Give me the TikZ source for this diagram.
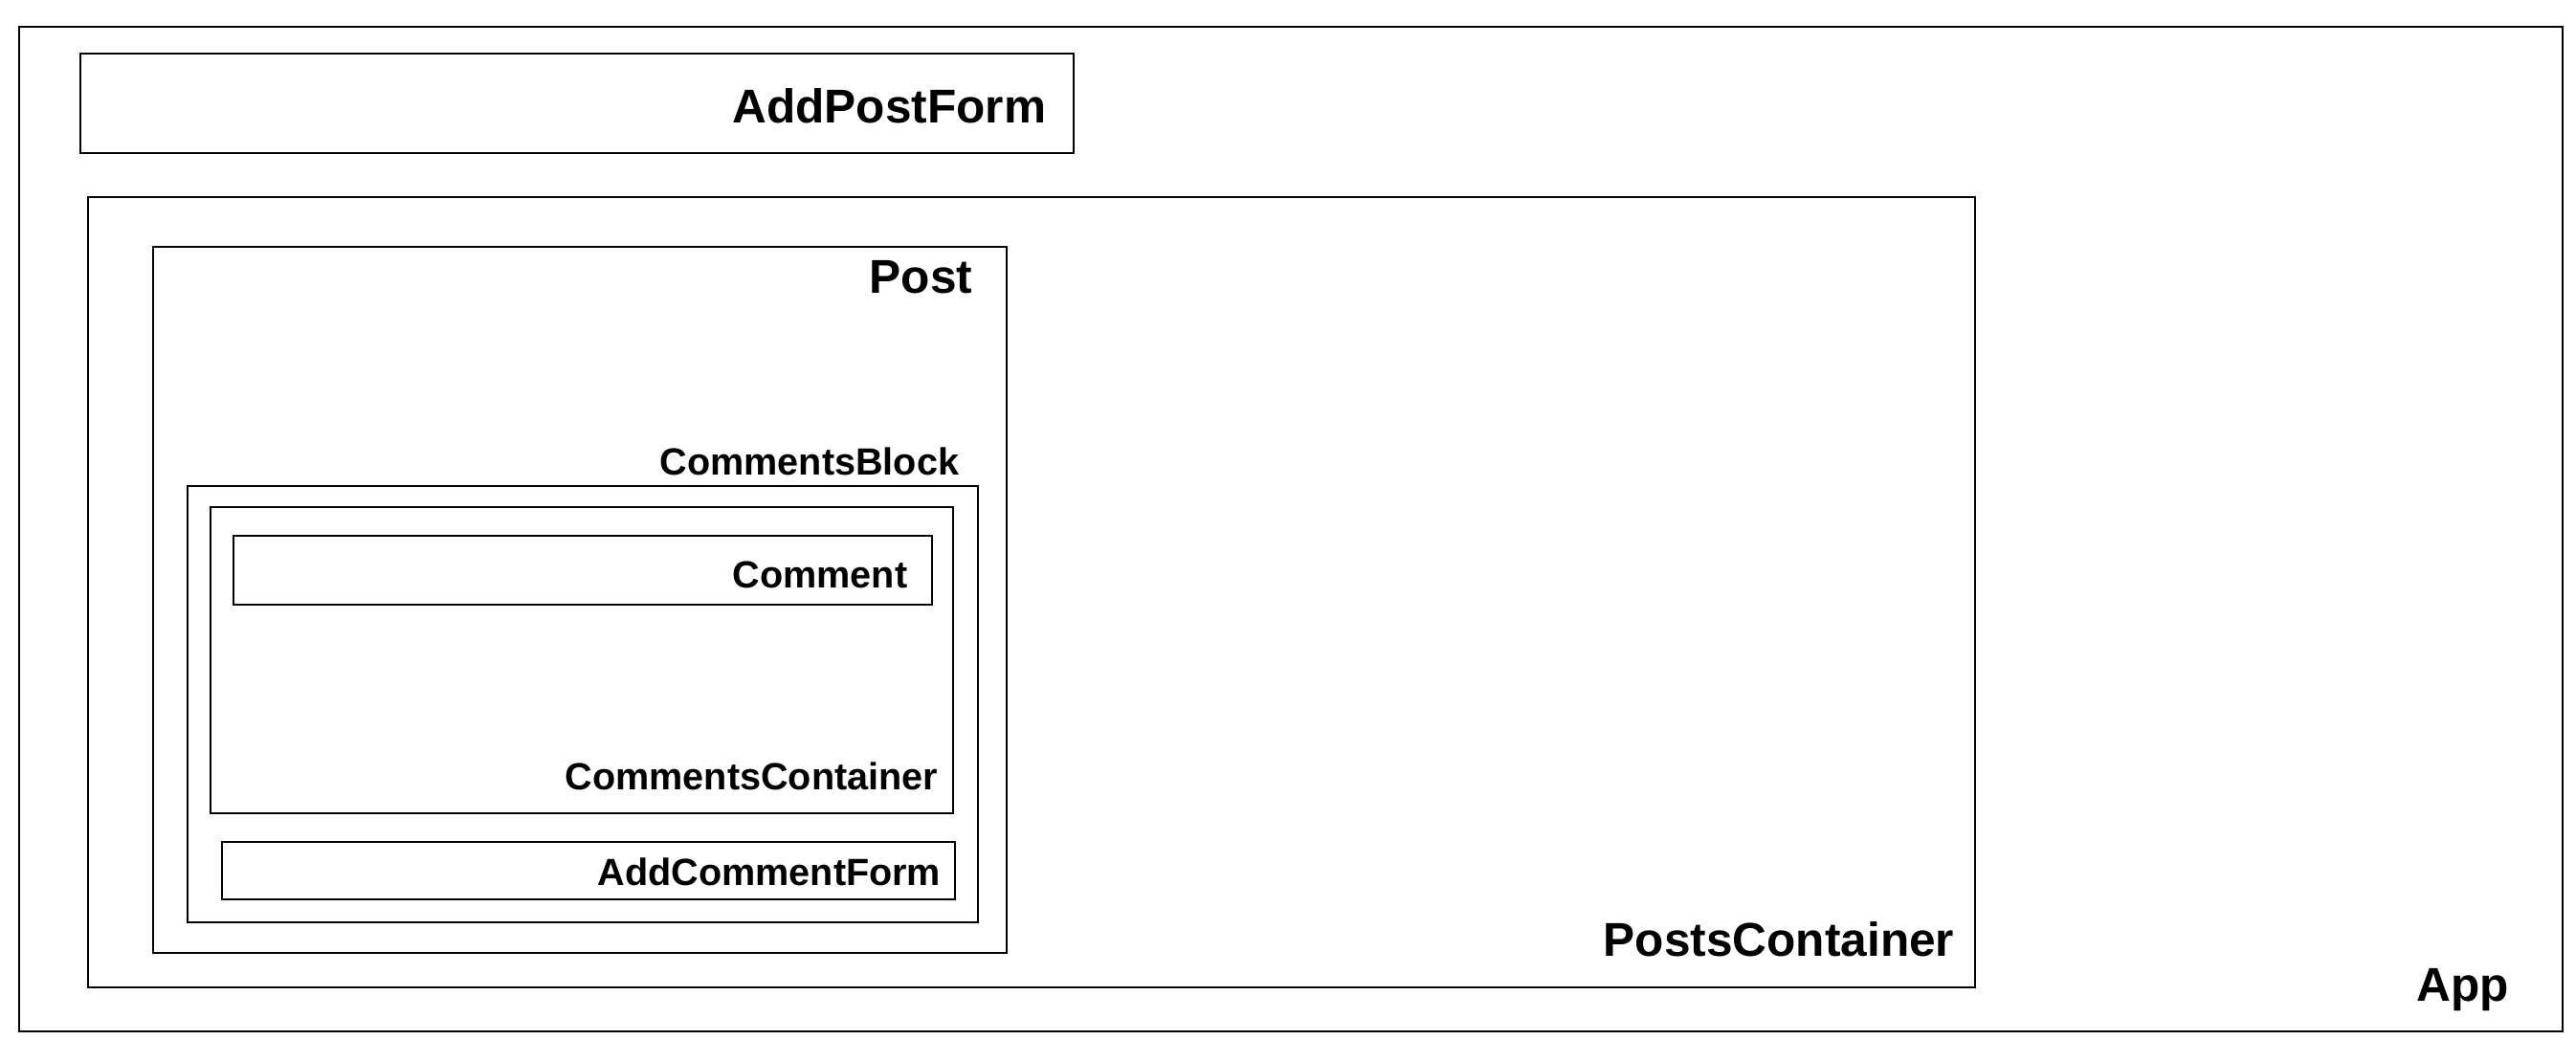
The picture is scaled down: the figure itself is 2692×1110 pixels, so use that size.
\documentclass[tikz,border=0pt]{standalone}
\usepackage{fontspec}
\setmainfont{Liberation Sans}
\usepackage{tikz}
\tikzset{
box/.style={draw, line width=0.5pt, inner sep=0pt, anchor=north west}, % plain component frame
biglabel/.style={font=\fontsize{12.4}{14}\selectfont\bfseries, inner sep=0pt, anchor=base east}, % outer component names
smalllabel/.style={font=\fontsize{9.9}{11}\selectfont\bfseries, inner sep=0pt, anchor=base east}, % inner component names
}
\begin{document}
\begin{tikzpicture}[x=0.25pt, y=-0.25pt]
\useasboundingbox (0,0) rectangle (2692,1110);
\node[box, minimum width=2658*0.25pt, minimum height=1050*0.25pt] (app) at (19,27) {};
\node[box, minimum width=1038*0.25pt, minimum height=104*0.25pt] (addpost) at (83,55) {};
\node[box, minimum width=1972*0.25pt, minimum height=826*0.25pt] (posts) at (91,205) {};
\node[box, minimum width=892*0.25pt, minimum height=738*0.25pt] (post) at (159,257) {};
\node[box, minimum width=826*0.25pt, minimum height=456*0.25pt] (block) at (195,507) {};
\node[box, minimum width=776*0.25pt, minimum height=320*0.25pt] (container) at (219,529) {};
\node[box, minimum width=730*0.25pt, minimum height=72*0.25pt] (comment) at (243,559) {};
\node[box, minimum width=766*0.25pt, minimum height=60*0.25pt] (addcomment) at (231,879) {};

\node[biglabel] (appName) at (2623,1047) {App};
\node[biglabel] (addpostName) at (1094,129) {AddPostForm};
\node[biglabel] (postsName) at (2043,1000) {PostsContainer};
\node[biglabel] (postName) at (1017,307) {Post};
\node[smalllabel] (blockName) at (1003,497) {CommentsBlock};
\node[smalllabel] (commentName) at (949,615) {Comment};
\node[smalllabel] (containerName) at (981,826) {CommentsContainer};
\node[smalllabel] (addcommentName) at (984,926) {AddCommentForm};
\end{tikzpicture}
\end{document}
